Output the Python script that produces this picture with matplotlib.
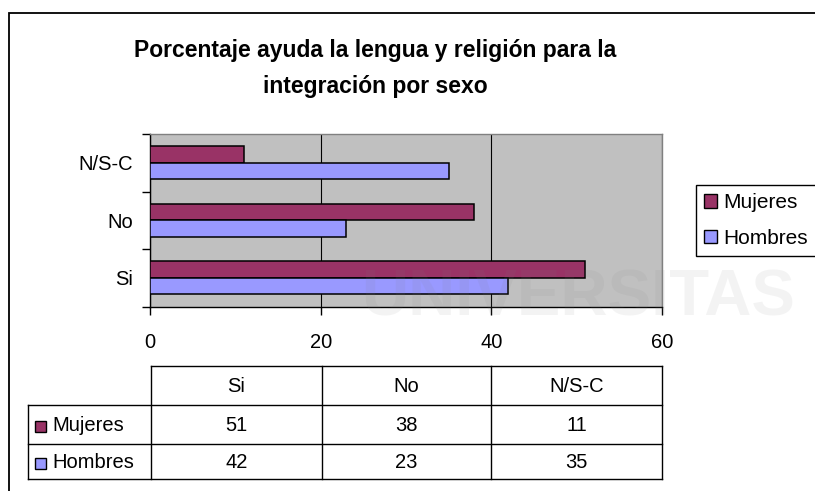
import numpy as np
import matplotlib
matplotlib.use("Agg")
import matplotlib.pyplot as plt
from matplotlib.patches import Rectangle

plt.rcParams['font.family'] = ['Liberation Sans', 'DejaVu Sans']

# data
categories = ['Si', 'No', 'N/S-C']
series_names = ['Mujeres', 'Hombres']
mujeres = [51, 38, 11]
hombres = [42, 23, 35]
title = 'Porcentaje ayuda la lengua y religión para la\nintegración por sexo'

colors = {'Mujeres': '#993366', 'Hombres': '#9999FF'}

W, H = 815, 491
fig = plt.figure(figsize=(W / 100, H / 100), dpi=100)
fig.patch.set_facecolor('white')


def fx(px):
    return px / W


def fy(py):
    return 1 - py / H


# plot area
ax = fig.add_axes([fx(150), fy(306.5), fx(662) - fx(150), fy(134) - fy(306.5)])
ax.set_facecolor('#C0C0C0')
ypos = np.arange(len(categories))
bh = 0.29
ax.barh(ypos + bh / 2, mujeres, height=bh, color=colors['Mujeres'],
        edgecolor='black', linewidth=1.1, zorder=3)
ax.barh(ypos - bh / 2, hombres, height=bh, color=colors['Hombres'],
        edgecolor='black', linewidth=1.1, zorder=3)
ax.set_xlim(0, 60)
ax.set_ylim(-0.5, len(categories) - 0.5)

ax.set_xticks([0, 20, 40, 60])
ax.tick_params(axis='x', length=6, width=1, pad=13, labelsize=14.5, direction='out')
ax.xaxis.grid(True, color='black', linewidth=0.8, zorder=1)
ax.set_axisbelow(True)

ax.set_yticks(np.arange(-0.5, len(categories), 1.0))
ax.set_yticklabels([])
ax.set_yticks(ypos, minor=True)
ax.set_yticklabels(categories, minor=True)
ax.tick_params(axis='y', which='major', length=6, width=1, direction='out')
ax.tick_params(axis='y', which='minor', length=0, pad=12, labelsize=14.5)

for s in ['left', 'bottom']:
    ax.spines[s].set_color('black')
    ax.spines[s].set_linewidth(1)
for s in ['top', 'right']:
    ax.spines[s].set_color('#808080')
    ax.spines[s].set_linewidth(1)

# title
fig.text(fx(375), fy(39), title, ha='center', va='top', fontsize=16.5,
         fontweight='bold', linespacing=1.7, multialignment='center')

# legend
handles = [Rectangle((0, 0), 1, 1, facecolor=colors[n], edgecolor='black', linewidth=1)
           for n in series_names]
leg = fig.legend(handles, series_names, loc='upper left',
                 bbox_to_anchor=(fx(696), fy(185)), fontsize=15,
                 handlelength=0.6, handleheight=0.6, handletextpad=0.3,
                 labelspacing=0.8, borderpad=0.4, borderaxespad=0,
                 fancybox=False, framealpha=1)
leg.get_frame().set_edgecolor('black')
leg.get_frame().set_linewidth(1)

# data table below the chart
tab = fig.add_axes([0, 0, 1, 1])
tab.set_xlim(0, W)
tab.set_ylim(H, 0)
tab.axis('off')
tab.patch.set_visible(False)

col_x = [151, 322, 491, 662]
lab_x = 28
row_y = [366, 405, 444, 479]
lc = 'black'
lw = 1
tab.plot([col_x[0], col_x[-1]], [row_y[0], row_y[0]], color=lc, lw=lw)
for x in col_x:
    tab.plot([x, x], [row_y[0], row_y[-1]], color=lc, lw=lw)
tab.plot([lab_x, lab_x], [row_y[1], row_y[-1]], color=lc, lw=lw)
for y in row_y[1:]:
    tab.plot([lab_x, col_x[-1]], [y, y], color=lc, lw=lw)

for j, c in enumerate(categories):
    tab.text((col_x[j] + col_x[j + 1]) / 2, (row_y[0] + row_y[1]) / 2 + 1, c,
             ha='center', va='center', fontsize=14.5)

for i, (name, vals) in enumerate(zip(series_names, [mujeres, hombres])):
    yc = (row_y[i + 1] + row_y[i + 2]) / 2 + 1
    tab.add_patch(Rectangle((35, yc - 5), 11, 11, facecolor=colors[name],
                            edgecolor='black', linewidth=1))
    tab.text(52, yc, name, ha='left', va='center', fontsize=14.5)
    for j, v in enumerate(vals):
        tab.text((col_x[j] + col_x[j + 1]) / 2, yc, str(v),
                 ha='center', va='center', fontsize=14.5)

# outer chart frame (runs off the right and bottom edges)
fig.add_artist(Rectangle((fx(9), -0.1), 1.2, fy(13) + 0.1, transform=fig.transFigure,
                         fill=False, edgecolor='black', linewidth=1.3))

# faint watermark from the scanned page
tab.text(578, 298, 'UNIVERSITAS', ha='center', va='center', fontsize=47,
         fontweight='bold', color='#808080', alpha=0.09, zorder=10)

fig.savefig('out.png', dpi=100)
